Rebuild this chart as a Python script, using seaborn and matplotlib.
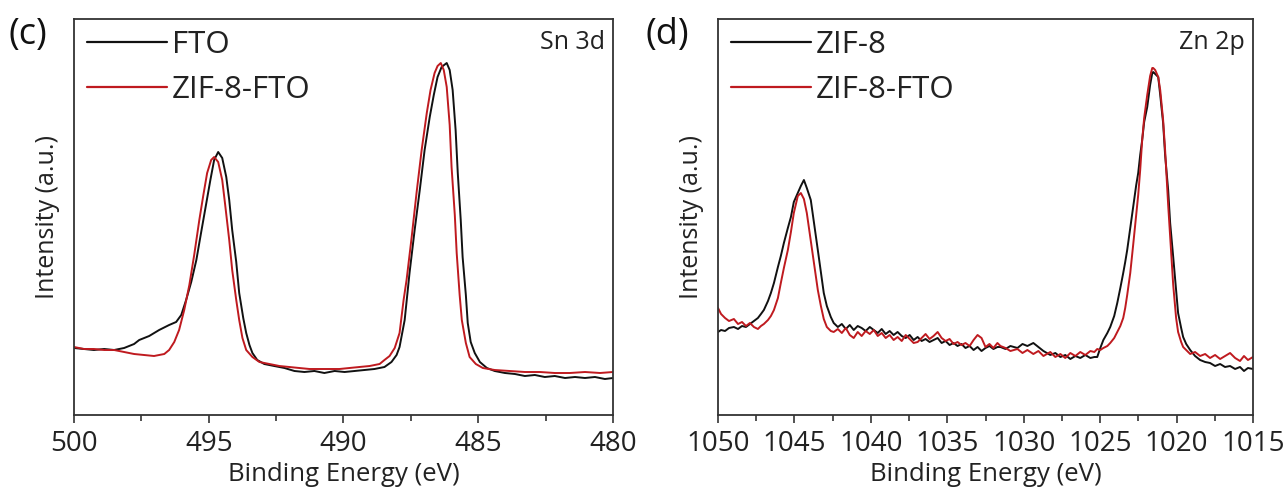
import numpy as np
import pandas as pd
import matplotlib
matplotlib.use("Agg")
import matplotlib.pyplot as plt
from matplotlib.ticker import MultipleLocator
import seaborn as sns

# ---------------- Sn 3d panel (c) ----------------
sn_fto_energy = [500.00, 499.63, 499.26, 498.88, 498.51, 498.14, 497.77, 497.58, 497.21, 496.84,
                 496.47, 496.21, 496.02, 495.84, 495.65, 495.46, 495.28, 495.09, 494.94, 494.80,
                 494.65, 494.50, 494.35, 494.24, 494.13, 493.98, 493.87, 493.72, 493.61, 493.49,
                 493.38, 493.20, 492.94, 492.57, 492.19, 491.82, 491.45, 491.08, 490.71, 490.33,
                 489.96, 489.59, 489.22, 488.85, 488.48, 488.22, 488.03, 487.92, 487.73, 487.55,
                 487.36, 487.17, 486.99, 486.80, 486.65, 486.51, 486.36, 486.17, 486.06, 485.95,
                 485.84, 485.76, 485.65, 485.58, 485.46, 485.39, 485.28, 485.13, 484.94, 484.68,
                 484.39, 484.01, 483.64, 483.27, 482.90, 482.53, 482.16, 481.78, 481.41, 481.04,
                 480.67, 480.30, 480.00]
sn_fto_intensity = [62, 61, 60, 61, 60, 62, 66, 70, 74, 80,
                    85, 88, 95, 110, 128, 150, 178, 207, 230, 250,
                    258, 252, 233, 210, 180, 148, 117, 92, 77, 65,
                    57, 50, 46, 44, 42, 39, 38, 39, 37, 39,
                    38, 39, 40, 41, 43, 48, 55, 63, 90, 137,
                    180, 220, 260, 293, 315, 333, 343, 347, 340, 320,
                    280, 237, 190, 153, 115, 87, 68, 57, 48, 42,
                    39, 37, 36, 34, 35, 33, 34, 32, 33, 32,
                    33, 31, 32]

sn_zif_energy = [500.00, 499.63, 499.26, 498.88, 498.51, 498.14, 497.77, 497.40, 497.03, 496.65,
                 496.47, 496.28, 496.10, 495.91, 495.72, 495.54, 495.35, 495.20, 495.06, 494.91,
                 494.80, 494.65, 494.50, 494.39, 494.24, 494.13, 493.98, 493.87, 493.75, 493.61,
                 493.38, 493.12, 492.75, 492.38, 492.01, 491.64, 491.26, 490.89, 490.52, 490.15,
                 489.78, 489.41, 489.03, 488.66, 488.48, 488.29, 488.10, 487.92, 487.77, 487.66,
                 487.47, 487.29, 487.10, 486.91, 486.77, 486.62, 486.51, 486.39, 486.28, 486.17,
                 486.06, 485.99, 485.87, 485.80, 485.69, 485.61, 485.46, 485.32, 485.09, 484.83,
                 484.39, 483.83, 483.27, 482.71, 482.16, 481.60, 481.04, 480.48, 480.00]
sn_zif_intensity = [63, 61, 61, 60, 60, 58, 56, 55, 54, 56,
                    60, 68, 80, 100, 125, 155, 190, 215, 237, 250,
                    253, 248, 230, 205, 170, 140, 110, 90, 72, 60,
                    53, 48, 46, 44, 43, 42, 41, 41, 41, 41,
                    42, 43, 44, 46, 50, 54, 62, 77, 110, 130,
                    173, 217, 260, 297, 320, 337, 344, 347, 340, 323,
                    285, 243, 195, 157, 115, 90, 67, 53, 46, 42,
                    40, 39, 38, 38, 37, 37, 38, 37, 38]

# ---------------- Zn 2p panel (d) ----------------
zn_energy = [1050.00, 1049.80, 1049.54, 1049.28, 1048.96, 1048.69, 1048.43, 1048.17, 1047.91, 1047.65,
             1047.39, 1047.19, 1047.00, 1046.73, 1046.54, 1046.34, 1046.08, 1045.89, 1045.69, 1045.43,
             1045.23, 1045.04, 1044.78, 1044.58, 1044.38, 1044.19, 1043.93, 1043.73, 1043.47, 1043.27,
             1043.08, 1042.88, 1042.62, 1042.43, 1042.16, 1041.90, 1041.64, 1041.38, 1041.12, 1040.86,
             1040.60, 1040.34, 1040.07, 1039.81, 1039.55, 1039.29, 1039.03, 1038.77, 1038.51, 1038.25,
             1037.98, 1037.72, 1037.46, 1037.20, 1036.94, 1036.68, 1036.42, 1036.16, 1035.90, 1035.63,
             1035.37, 1035.11, 1034.85, 1034.59, 1034.33, 1034.07, 1033.81, 1033.54, 1033.28, 1033.02,
             1032.76, 1032.50, 1032.24, 1031.98, 1031.72, 1031.52, 1031.19, 1030.87, 1030.41, 1030.08,
             1029.76, 1029.37, 1029.04, 1028.71, 1028.26, 1027.93, 1027.60, 1027.28, 1026.95, 1026.62,
             1026.30, 1025.97, 1025.64, 1025.38, 1025.19, 1024.99, 1024.79, 1024.53, 1024.34, 1024.08,
             1023.88, 1023.68, 1023.49, 1023.36, 1023.23, 1023.03, 1022.84, 1022.64, 1022.51, 1022.38,
             1022.25, 1022.12, 1021.92, 1021.73, 1021.59, 1021.53, 1021.40, 1021.20, 1021.07, 1020.88,
             1020.75, 1020.55, 1020.42, 1020.22, 1020.03, 1019.90, 1019.70, 1019.57, 1019.37, 1019.11,
             1018.79, 1018.46, 1018.13, 1017.81, 1017.48, 1017.15, 1016.83, 1016.50, 1016.17, 1015.85,
             1015.59, 1015.33, 1015.00]
zn_zif8_intensity = [78, 80, 79, 82, 83, 81, 84, 83, 86, 89,
                     92, 96, 100, 109, 117, 127, 143, 154, 167, 182,
                     193, 208, 217, 224, 230, 222, 210, 188, 160, 138,
                     117, 104, 93, 87, 83, 86, 81, 85, 80, 84,
                     82, 79, 83, 80, 77, 81, 76, 79, 75, 78,
                     74, 72, 75, 70, 73, 69, 71, 68, 70, 72,
                     67, 69, 65, 67, 64, 66, 62, 64, 60, 63,
                     59, 62, 64, 61, 63, 63, 61, 64, 62, 66,
                     64, 67, 63, 59, 55, 57, 53, 55, 51, 54,
                     52, 55, 52, 53, 53, 62, 70, 77, 83, 94,
                     107, 122, 137, 148, 160, 182, 203, 225, 237, 255,
                     270, 288, 303, 325, 337, 338, 336, 333, 315, 287,
                     255, 220, 187, 153, 120, 97, 82, 73, 66, 60,
                     54, 50, 48, 47, 44, 46, 43, 44, 41, 43,
                     39, 42, 41]
zn_zif8fto_intensity = [102, 96, 92, 89, 91, 86, 88, 84, 87, 83,
                        81, 84, 86, 90, 94, 100, 112, 127, 142, 160,
                        178, 197, 214, 217, 211, 197, 170, 148, 120, 104,
                        91, 83, 79, 78, 81, 77, 82, 75, 72, 78,
                        74, 79, 76, 80, 74, 77, 72, 75, 70, 73,
                        69, 75, 71, 67, 68, 72, 76, 71, 74, 78,
                        72, 69, 71, 66, 68, 65, 67, 64, 70, 75,
                        72, 63, 66, 62, 67, 64, 62, 59, 61, 57,
                        60, 56, 59, 54, 58, 53, 56, 52, 57, 54,
                        58, 55, 59, 58, 61, 60, 62, 64, 67, 72,
                        78, 84, 92, 102, 115, 137, 165, 195, 215, 240,
                        270, 292, 315, 334, 342, 342, 340, 333, 320, 290,
                        260, 205, 173, 125, 92, 78, 68, 63, 60, 56,
                        58, 54, 56, 52, 55, 51, 54, 57, 52, 49,
                        54, 50, 53]

sn_df = pd.concat([
    pd.DataFrame({"energy": sn_fto_energy, "intensity": sn_fto_intensity, "sample": "FTO"}),
    pd.DataFrame({"energy": sn_zif_energy, "intensity": sn_zif_intensity, "sample": "ZIF-8-FTO"}),
])
zn_df = pd.concat([
    pd.DataFrame({"energy": zn_energy, "intensity": zn_zif8_intensity, "sample": "ZIF-8"}),
    pd.DataFrame({"energy": zn_energy, "intensity": zn_zif8fto_intensity, "sample": "ZIF-8-FTO"}),
])

BLACK = "#111111"
RED = "#bf1a1f"

sns.set_theme(style="white")
plt.rcParams["font.family"] = ["Open Sans", "DejaVu Sans"]

W, H = 1287, 495
TOP, BOT = 19, 415
fig = plt.figure(figsize=(W / 100, H / 100), dpi=100)
ax1 = fig.add_axes([74 / W, 1 - BOT / H, (613 - 74) / W, (BOT - TOP) / H])
ax2 = fig.add_axes([718 / W, 1 - BOT / H, (1253 - 718) / W, (BOT - TOP) / H])

sns.lineplot(data=sn_df, x="energy", y="intensity", hue="sample",
             palette={"FTO": BLACK, "ZIF-8-FTO": RED}, hue_order=["FTO", "ZIF-8-FTO"],
             linewidth=1.4, ax=ax1, estimator=None)
sns.lineplot(data=zn_df, x="energy", y="intensity", hue="sample",
             palette={"ZIF-8": BLACK, "ZIF-8-FTO": RED}, hue_order=["ZIF-8", "ZIF-8-FTO"],
             linewidth=1.4, ax=ax2, estimator=None)

panels = [
    (ax1, (500, 480), [500, 495, 490, 485, 480], "Sn 3d", "(c)", 9),
    (ax2, (1050, 1015), [1050, 1045, 1040, 1035, 1030, 1025, 1020, 1015], "Zn 2p", "(d)", 646),
]
for ax, xl, ticks, tag, letter, lx in panels:
    ax.set_xlim(*xl)
    ax.set_ylim(-5, 391)
    ax.set_xticks(ticks)
    ax.set_xticklabels([str(t) for t in ticks])
    ax.xaxis.set_minor_locator(MultipleLocator(2.5))
    ax.set_yticks([])
    ax.tick_params(axis="x", which="major", direction="out", length=6, width=1.2,
                   color="#333333", labelsize=20, pad=5, bottom=True, labelcolor="#222222")
    ax.tick_params(axis="x", which="minor", direction="out", length=4, width=1.2,
                   color="#333333", bottom=True)
    for s in ax.spines.values():
        s.set_visible(True)
        s.set_color("#333333")
        s.set_linewidth(1.3)
    ax.set_xlabel("Binding Energy (eV)", fontsize=18.5, labelpad=3, color="#222222")
    ax.set_ylabel("Intensity (a.u.)", fontsize=18, labelpad=10, color="#222222")
    ax.text(0.985, (BOT - 43) / (BOT - TOP), tag, transform=ax.transAxes, ha="right",
            va="center", fontsize=18, color="#222222")
    leg = ax.legend(loc="upper left", bbox_to_anchor=(0.024, 0.972), frameon=False,
                    fontsize=22.5, handlelength=2.55, handletextpad=0.18, labelspacing=0.48,
                    borderpad=0, borderaxespad=0)
    for line in leg.get_lines():
        line.set_linewidth(1.6)
    for t in leg.get_texts():
        t.set_color("#222222")
    fig.text(lx / W, 1 - 35 / H, letter, fontsize=26, ha="left", va="center", color="#111111")

fig.savefig("out.png", dpi=100, facecolor="white")
